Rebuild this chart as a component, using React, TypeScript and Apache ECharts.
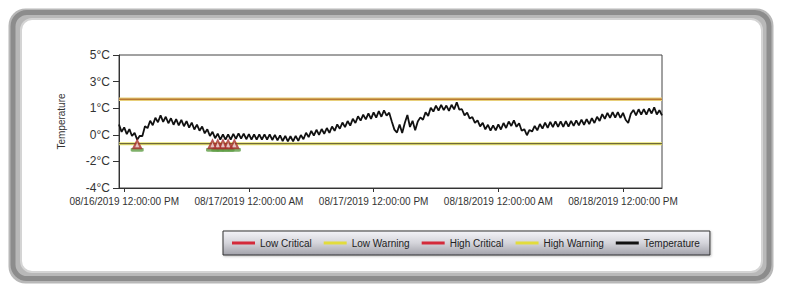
import React, { useEffect, useRef } from "react";
import * as echarts from "echarts";

// ---- data ----
const startHour = 11.5; // hours since 08/16/2019 00:00
const stepHours = 0.25;
const endHour = 63.75;
const temperature = [
  0.3, -0.2, 0.1, -0.35, -0.02, -0.48, -0.27, -0.73, -0.47, -0.48,
  0.18, 0.05, 0.55, 0.25, 0.75, 0.45, 0.92, 0.48, 0.82, 0.38,
  0.72, 0.28, 0.66, 0.24, 0.61, 0.18, 0.53, 0.08, 0.42, -0.04,
  0.29, -0.12, 0.16, -0.3, -0.03, -0.48, -0.2, -0.63, -0.32, -0.73,
  -0.37, -0.73, -0.37, -0.73, -0.34, -0.68, -0.3, -0.66, -0.32, -0.7,
  -0.36, -0.73, -0.37, -0.73, -0.37, -0.73, -0.37, -0.73, -0.37, -0.75,
  -0.4, -0.78, -0.44, -0.82, -0.47, -0.85, -0.5, -0.85, -0.47, -0.81,
  -0.42, -0.7, -0.26, -0.56, -0.14, -0.45, -0.06, -0.4, -0.01, -0.33,
  0.06, -0.27, 0.16, -0.13, 0.3, 0.01, 0.43, 0.12, 0.53, 0.22,
  0.68, 0.4, 0.85, 0.56, 0.96, 0.64, 1.05, 0.68, 1.12, 0.76,
  1.2, 0.82, 1.25, 0.9, 1.1, 0.5, -0.05, -0.25, 0.3, -0.28,
  0.4, 0.94, 0.13, 0.55, -0.1, 0.5, 0.78, 0.62, 1.12, 0.88,
  1.43, 1.17, 1.58, 1.24, 1.63, 1.27, 1.58, 1.22, 1.63, 1.32,
  1.8, 1.3, 1.33, 0.92, 1.1, 0.7, 0.8, 0.4, 0.58, 0.17,
  0.41, -0.03, 0.28, -0.12, 0.24, -0.1, 0.3, -0.04, 0.4, 0.06,
  0.5, 0.2, 0.58, 0.14, 0.38, -0.13, -0.02, -0.43, -0.07, -0.18,
  0.2, -0.1, 0.33, 0.02, 0.43, 0.07, 0.48, 0.12, 0.51, 0.14,
  0.51, 0.14, 0.52, 0.16, 0.54, 0.2, 0.58, 0.24, 0.63, 0.28,
  0.66, 0.32, 0.73, 0.4, 0.82, 0.54, 1.0, 0.68, 1.08, 0.74,
  1.14, 0.76, 1.13, 0.74, 1.08, 0.62, 0.4, 1.03, 1.28, 0.92,
  1.33, 0.96, 1.33, 0.96, 1.38, 1.04, 1.46, 0.98, 1.26, 0.92,
];
const lowCritical = -1;
const lowWarning = -1;
const highCritical = 2;
const highWarning = 2;
const alarmHours = [13.25, 20.5, 21.0, 21.5, 22.0, 22.6];
const alarmLevel = -1;

const seriesNames = ["Low Critical", "Low Warning", "High Critical", "High Warning", "Temperature"];
const legendColors = ["#d42a3a", "#e2dc3c", "#d42a3a", "#e2dc3c", "#111111"];

const xTickHours = [12, 24, 36, 48, 60];
const xTickLabels = [
  "08/16/2019 12:00:00 PM",
  "08/17/2019 12:00:00 AM",
  "08/17/2019 12:00:00 PM",
  "08/18/2019 12:00:00 AM",
  "08/18/2019 12:00:00 PM",
];
const yTickValues = [-4, -2.2, -0.4, 1.4, 3.2, 5];
const yTickLabels = ["-4°C", "-2°C", "0°C", "1°C", "3°C", "5°C"];

const nearestLabel = (v: number, vals: number[], labels: string[]) => {
  let best = 0;
  for (let i = 1; i < vals.length; i++) {
    if (Math.abs(vals[i] - v) < Math.abs(vals[best] - v)) best = i;
  }
  return labels[best];
};

const FONT = "'Liberation Sans', Arial, sans-serif";

export default function App() {
  const ref = useRef<HTMLDivElement>(null);
  useEffect(() => {
    if (!ref.current) return;
    const chart = echarts.init(ref.current, undefined, { renderer: "svg" });
    const tempData = temperature.map((v, i) => [startHour + i * stepHours, v]);
    const hline = (v: number) => [[startHour, v], [endHour, v]];
    chart.setOption({
      animation: false,
      backgroundColor: "#ffffff",
      textStyle: { fontFamily: FONT },
      graphic: [
        {
          type: "rect",
          z: -10,
          shape: { x: 8.5, y: 8.5, width: 765, height: 275, r: 17 },
          style: { fill: "#b8b8b8" },
        },
        {
          type: "rect",
          z: -9,
          shape: { x: 13, y: 12.5, width: 756, height: 266, r: 14 },
          style: { fill: "none", stroke: "#8c8c8c", lineWidth: 5 },
        },
        {
          type: "rect",
          z: -8,
          shape: { x: 21, y: 19, width: 741, height: 253, r: 11 },
          style: { fill: "#ffffff", stroke: "#d4d4d4", lineWidth: 2 },
        },
      ],
      grid: { left: 119, right: 138, top: 55, bottom: 106, show: true, borderColor: "#444", borderWidth: 1, backgroundColor: "transparent" },
      legend: {
        left: 223,
        top: 231,
        padding: [7, 10, 7, 9],
        itemWidth: 23,
        itemHeight: 3,
        itemGap: 12,
        icon: "rect",
        borderColor: "#333",
        borderWidth: 1,
        backgroundColor: {
          type: "linear", x: 0, y: 0, x2: 0, y2: 1,
          colorStops: [
            { offset: 0, color: "#f4f4f8" },
            { offset: 0.5, color: "#d4d4da" },
            { offset: 1, color: "#a2a2aa" },
          ],
        },
        shadowColor: "rgba(0,0,0,0.25)",
        shadowBlur: 2,
        shadowOffsetX: 1,
        shadowOffsetY: 1,
        textStyle: { fontSize: 10, color: "#222", fontFamily: FONT },
        data: seriesNames.map((n, i) => ({ name: n, itemStyle: { color: legendColors[i] } })),
      },
      xAxis: {
        type: "value",
        min: startHour,
        max: endHour,
        splitLine: { show: false },
        axisLine: { show: true, onZero: false, lineStyle: { color: "#333" } },
        axisTick: { show: true, length: 4, customValues: xTickHours, lineStyle: { color: "#333" } },
        axisLabel: {
          customValues: xTickHours,
          fontSize: 10,
          color: "#333",
          margin: 8,
          fontFamily: FONT,
          formatter: (v: number) => nearestLabel(v, xTickHours, xTickLabels),
        },
      },
      yAxis: {
        type: "value",
        min: -4,
        max: 5,
        name: "Temperature",
        nameLocation: "middle",
        nameGap: 53,
        nameTextStyle: { fontSize: 10, color: "#333", fontFamily: FONT },
        splitLine: { show: false },
        axisLine: { show: true, onZero: false, lineStyle: { color: "#333" } },
        axisTick: { show: true, length: 6, customValues: yTickValues, lineStyle: { color: "#333" } },
        axisLabel: {
          customValues: yTickValues,
          fontSize: 12,
          color: "#333",
          margin: 9,
          fontFamily: FONT,
          formatter: (v: number) => nearestLabel(v, yTickValues, yTickLabels),
        },
      },
      series: [
        {
          name: "Low Warning", type: "line", data: hline(lowWarning), symbol: "none", silent: true, z: 1,
          itemStyle: { color: legendColors[1] }, lineStyle: { color: "#e6e26e", width: 3 },
        },
        {
          name: "Low Critical", type: "line", data: hline(lowCritical), symbol: "none", silent: true, z: 1,
          itemStyle: { color: legendColors[0] }, lineStyle: { color: "#5a5230", width: 1 },
        },
        {
          name: "High Warning", type: "line", data: hline(highWarning), symbol: "none", silent: true, z: 1,
          itemStyle: { color: legendColors[3] }, lineStyle: { color: "#e8cf7a", width: 3.5 },
        },
        {
          name: "High Critical", type: "line", data: hline(highCritical), symbol: "none", silent: true, z: 1,
          itemStyle: { color: legendColors[2] }, lineStyle: { color: "#b87a34", width: 1.5 },
        },
        {
          name: "Temperature", type: "line", data: tempData, symbol: "none", z: 3,
          itemStyle: { color: "#111" }, lineStyle: { color: "#111", width: 1.8 },
        },
        {
          name: "alarmBase", type: "scatter", z: 4, silent: true,
          data: alarmHours.map((h) => [h, alarmLevel - 0.42]),
          symbol: "roundRect", symbolSize: [13, 4],
          itemStyle: { color: "#5f9e45" },
        },
        {
          name: "alarm", type: "scatter", z: 5, silent: true,
          data: alarmHours.map((h) => [h, alarmLevel]),
          symbol: "triangle", symbolSize: [11, 11],
          itemStyle: { color: "#a8302e" },
        },
        {
          name: "alarmInner", type: "scatter", z: 6, silent: true,
          data: alarmHours.map((h) => [h, alarmLevel - 0.08]),
          symbol: "triangle", symbolSize: [4, 5],
          itemStyle: { color: "#f3dede" },
        },
      ],
    });
    return () => chart.dispose();
  }, []);
  return (
    <div
      ref={ref}
      style={{ position: "fixed", left: 0, top: 0, width: 800, height: 294, background: "#fff" }}
    />
  );
}
